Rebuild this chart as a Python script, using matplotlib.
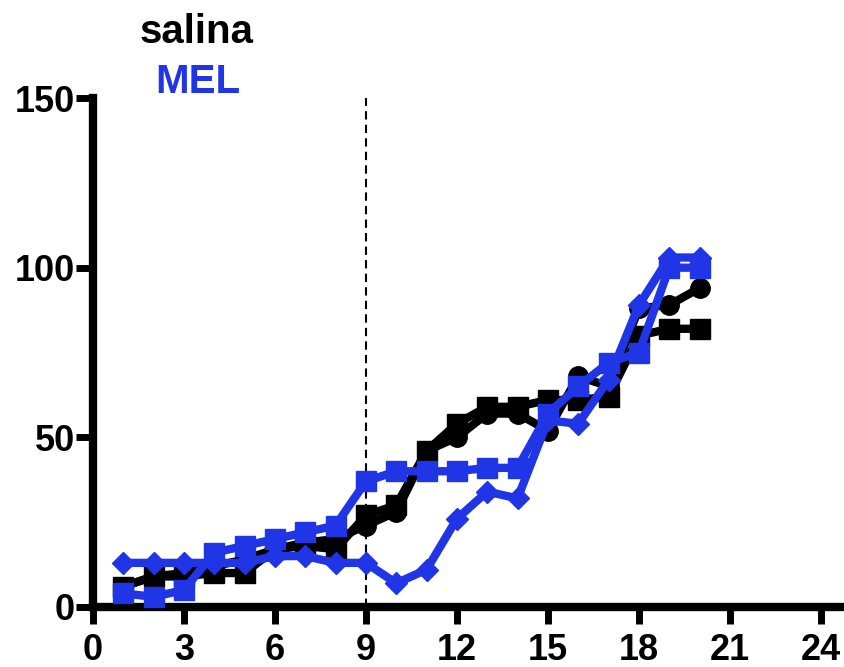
import matplotlib
matplotlib.use("Agg")
import matplotlib.pyplot as plt

plt.rcParams['font.family'] = ['Liberation Sans', 'DejaVu Sans']
plt.rcParams['font.weight'] = 'bold'

BLUE = '#1f35e6'

days = list(range(1, 21))
salina_circles = [6, 9, 10, 12, 14, 17, 19, 20, 24, 28, 46, 50, 57, 57, 52, 68, 65, 88, 89, 94]
salina_squares = [6, 9, 9, 10, 10, 17, 18, 17, 27, 30, 46, 54, 59, 59, 61, 61, 62, 80, 82, 82]
mel_squares = [4, 3, 5, 16, 18, 20, 22, 24, 37, 40, 40, 40, 41, 41, 57, 65, 72, 75, 100, 100]
mel_diamonds = [13, 13, 13, 13, 13, 15, 15, 13, 13, 7, 11, 26, 34, 32, 55, 54, 67, 89, 103, 103]

x_ticks = [0, 3, 6, 9, 12, 15, 18, 21, 24]
y_ticks = [0, 50, 100, 150]

fig = plt.figure(figsize=(8.44, 6.67), dpi=100)
ax = fig.add_axes([0.110, 0.090, 0.89, 0.763])

ax.axvline(9, color='black', lw=1.5, ls=(0, (4, 2.5)), zorder=1)

ax.plot(days, salina_circles, color='black', marker='o', ms=14, lw=6, clip_on=False, zorder=3)
ax.plot(days, salina_squares, color='black', marker='s', ms=14, lw=6, clip_on=False, zorder=3)
ax.plot(days, mel_diamonds, color=BLUE, marker='D', ms=11, lw=6, clip_on=False, zorder=4)
ax.plot(days, mel_squares, color=BLUE, marker='s', ms=14, lw=6, clip_on=False, zorder=5)

ax.set_xlim(0, 24.76)
ax.set_ylim(0, 150)
ax.set_xticks(x_ticks)
ax.set_yticks(y_ticks)

for side in ['top', 'right']:
    ax.spines[side].set_visible(False)
for side in ['left', 'bottom']:
    ax.spines[side].set_linewidth(6)
    ax.spines[side].set_capstyle('projecting')

ax.tick_params(axis='both', direction='out', length=12, width=5, labelsize=26)
ax.tick_params(axis='x', pad=7)
ax.tick_params(axis='y', pad=1)
for lab in ax.get_xticklabels() + ax.get_yticklabels():
    lab.set_fontweight('bold')

fig.text(197 / 844, 1 - 43 / 667, 'salina', ha='center', va='baseline',
         fontsize=29, fontweight='bold', color='black')
fig.text(198 / 844, 1 - 93 / 667, 'MEL', ha='center', va='baseline',
         fontsize=29, fontweight='bold', color=BLUE)

fig.savefig('out.png', dpi=100)
